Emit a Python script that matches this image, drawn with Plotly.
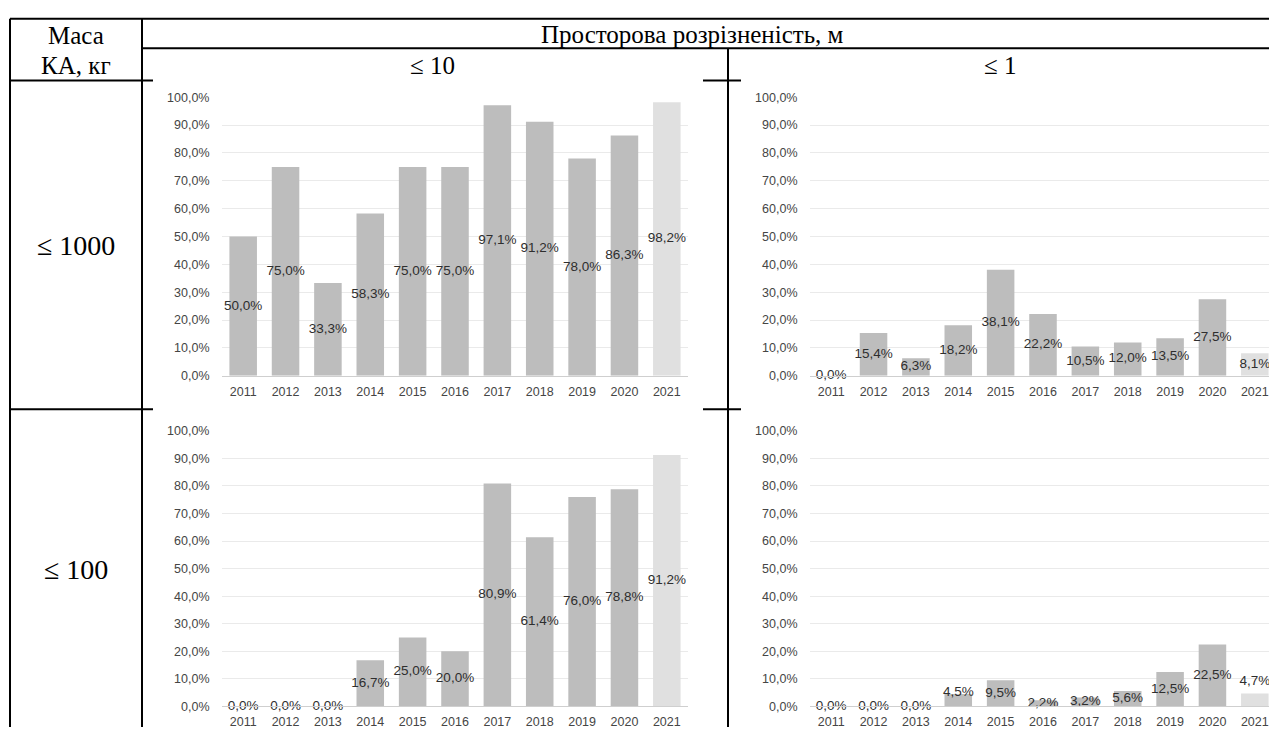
import plotly.graph_objects as go

# Canvas size in pixels
W, H = 1269, 734

# ---- data -------------------------------------------------------------
years = ["2011", "2012", "2013", "2014", "2015", "2016",
         "2017", "2018", "2019", "2020", "2021"]

# share of satellites, % (mass <= 1000 kg / <= 100 kg, resolution <= 10 m / <= 1 m)
share_m1000_r10 = [50.0, 75.0, 33.3, 58.3, 75.0, 75.0, 97.1, 91.2, 78.0, 86.3, 98.2]
share_m1000_r1 = [0.0, 15.4, 6.3, 18.2, 38.1, 22.2, 10.5, 12.0, 13.5, 27.5, 8.1]
share_m100_r10 = [0.0, 0.0, 0.0, 16.7, 25.0, 20.0, 80.9, 61.4, 76.0, 78.8, 91.2]
share_m100_r1 = [0.0, 0.0, 0.0, 4.5, 9.5, 2.2, 3.2, 5.6, 12.5, 22.5, 4.7]

y_ticks = [0, 10, 20, 30, 40, 50, 60, 70, 80, 90, 100]

header_resolution = "Просторова розрізненість, м"
header_mass = ["Маса", "КА, кг"]
resolution_labels = ["≤ 10", "≤ 1"]
mass_labels = ["≤ 1000", "≤ 100"]

# ---- styling ----------------------------------------------------------
BAR = "#BDBDBD"
BAR_LAST = "#E0E0E0"
GRID = "#EAEAEA"
AXIS = "#CFCFCF"
TICK_TXT = "#454545"
LABEL_TXT = "#2E2E2E"
SANS = "Liberation Sans, Arial, sans-serif"
SERIF = "Liberation Serif, Times New Roman, serif"


def pct(v):
    return f"{v:.1f}".replace(".", ",") + "%"


def px(x):
    return x / W


def py(y):
    return 1 - y / H


# plot-area placement of the four small charts (pixels)
CAT_W = (688 - 222) / 11
panels = [
    dict(vals=share_m1000_r10, x0=222, x1=688, top=92, bottom=376, lift={}),
    dict(vals=share_m1000_r1, x0=810, x1=1269, top=92, bottom=376, lift={}),
    dict(vals=share_m100_r10, x0=222, x1=688, top=432, bottom=713, lift={}),
    # two labels in the last chart are lifted above mid-bar (in % points)
    dict(vals=share_m100_r1, x0=810, x1=1269, top=432, bottom=713,
         lift={"2014": 2.8, "2021": 6.5}),
]

fig = go.Figure()
layout_axes = {}

for i, p in enumerate(panels, start=1):
    xa = "x" if i == 1 else f"x{i}"
    ya = "y" if i == 1 else f"y{i}"
    vals = p["vals"]
    colors = [BAR] * (len(vals) - 1) + [BAR_LAST]

    fig.add_trace(go.Bar(
        x=years, y=vals, xaxis=xa, yaxis=ya,
        marker=dict(color=colors, line=dict(width=0)),
        width=0.65, showlegend=False, hoverinfo="skip",
    ))

    # value labels sit in the middle of each bar
    label_y = [v / 2 + p["lift"].get(yr, 0.0) for yr, v in zip(years, vals)]
    fig.add_trace(go.Scatter(
        x=years, y=label_y, xaxis=xa, yaxis=ya,
        mode="text", text=[pct(v) for v in vals],
        textfont=dict(family=SANS, size=13.5, color=LABEL_TXT),
        textposition="middle center", cliponaxis=False,
        showlegend=False, hoverinfo="skip",
    ))

    x_end = -0.5 + (p["x1"] - p["x0"]) / CAT_W
    layout_axes[f"xaxis{'' if i == 1 else i}"] = dict(
        domain=[px(p["x0"]), px(p["x1"])], anchor=ya,
        type="category", range=[-0.5, x_end],
        showgrid=False, zeroline=False,
        showline=True, linecolor=AXIS, linewidth=1,
        ticks="outside", ticklen=4, tickcolor="rgba(0,0,0,0)",
        tickfont=dict(family=SANS, size=12.5, color=TICK_TXT),
        fixedrange=True,
    )
    layout_axes[f"yaxis{'' if i == 1 else i}"] = dict(
        domain=[py(p["bottom"]), py(p["top"])], anchor=xa,
        range=[0, 100], tickvals=y_ticks,
        ticktext=[pct(t) for t in y_ticks],
        showgrid=True, gridcolor=GRID, gridwidth=1,
        zeroline=False, showline=False,
        ticks="outside", ticklen=9, tickcolor="rgba(0,0,0,0)",
        tickfont=dict(family=SANS, size=12.5, color=TICK_TXT),
        fixedrange=True,
    )

# ---- table frame ------------------------------------------------------
frame = [
    (10, 12, 1269, 12),     # top border
    (10, 12, 10, 734),      # left border
    (142, 12, 142, 734),    # mass column divider
    (142, 42, 1269, 42),    # under resolution header
    (728, 42, 728, 734),    # between resolution columns
    (10, 75, 153, 75),      # header / first row
    (703, 75, 741, 75),
    (10, 410, 153, 410),    # first row / second row
    (703, 410, 741, 410),
]
shapes = [
    dict(type="line", xref="paper", yref="paper",
         x0=px(a), y0=py(b), x1=px(c), y1=py(d),
         line=dict(color="black", width=2), layer="below")
    for a, b, c, d in frame
]


# ---- table texts ------------------------------------------------------
def cell_text(text, x, y, size=25):
    return dict(text=text, x=px(x), y=py(y), xref="paper", yref="paper",
                showarrow=False, xanchor="center", yanchor="middle",
                font=dict(family=SERIF, size=size, color="black"))


annotations = [
    cell_text(header_mass[0], 76, 29),
    cell_text(header_mass[1], 76, 60),
    cell_text(header_resolution, 692, 28),
    cell_text(resolution_labels[0], 432, 60),
    cell_text(resolution_labels[1], 1000, 60),
    cell_text(mass_labels[0], 76, 243, size=28),
    cell_text(mass_labels[1], 76, 573, size=28),
]

fig.update_layout(
    width=W, height=H,
    margin=dict(l=0, r=0, t=0, b=0, pad=0),
    paper_bgcolor="white", plot_bgcolor="white",
    barmode="overlay", bargap=0.35,
    shapes=shapes, annotations=annotations,
    showlegend=False,
    **layout_axes,
)

fig.write_html("out.html", config={"displayModeBar": False})
